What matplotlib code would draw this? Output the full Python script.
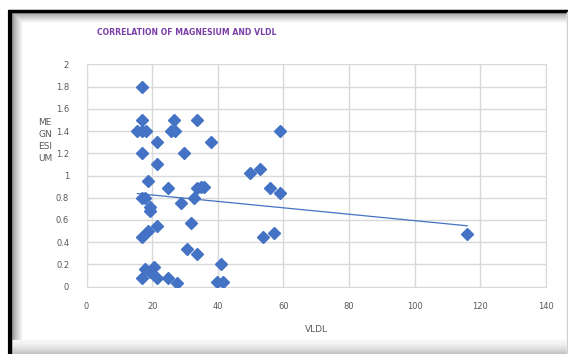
import numpy as np
import matplotlib.pyplot as plt

# VLDL vs serum magnesium for each subject
vldl = [16.8, 16.8, 15.5, 16.8, 18.2, 16.8, 21.6, 21.6, 18.7, 24.7,
        16.8, 17.9, 19.4, 19.4, 16.8, 18.7, 21.6, 17.9, 19.4, 20.7,
        16.8, 21.6, 24.7, 27.7, 26.7, 25.7, 27.0, 33.8, 29.7, 37.8,
        28.9, 32.7, 33.8, 34.8, 35.8, 31.7, 30.6, 33.7, 40.9, 39.7,
        41.7, 49.7, 52.9, 55.8, 59.0, 59.0, 53.9, 57.0, 116.0]
magnesium = [1.80, 1.50, 1.40, 1.40, 1.40, 1.20, 1.30, 1.10, 0.95, 0.89,
             0.80, 0.80, 0.72, 0.68, 0.45, 0.50, 0.55, 0.16, 0.13, 0.18,
             0.08, 0.08, 0.08, 0.03, 1.50, 1.40, 1.40, 1.50, 1.20, 1.30,
             0.75, 0.80, 0.89, 0.90, 0.90, 0.57, 0.34, 0.29, 0.20, 0.04,
             0.04, 1.02, 1.06, 0.89, 0.84, 1.40, 0.45, 0.48, 0.47]

x_ticks = [0, 20, 40, 60, 80, 100, 120, 140]
y_ticks = [0, 0.2, 0.4, 0.6, 0.8, 1, 1.2, 1.4, 1.6, 1.8, 2]
y_tick_labels = ["0", "0.2", "0.4", "0.6", "0.8", "1", "1.2", "1.4", "1.6", "1.8", "2"]

W, H = 568, 354
blue = "#4472C4"
grey_text = "#595959"

fig = plt.figure(figsize=(W / 100, H / 100), dpi=100)
fig.patch.set_facecolor("white")

# frame with soft inner shadow, drawn in pixel coordinates
bg = fig.add_axes([0, 0, 1, 1])
bg.set_xlim(0, W)
bg.set_ylim(H, 0)
bg.axis("off")
for i in range(12):
    g = 0.55 + 0.45 * (i / 11) ** 0.7
    bg.plot([12 + i, 12 + i], [12 + i, H], color=(g, g, g), lw=1, solid_capstyle="butt")
    bg.plot([12 + i, W - 2], [12 + i, 12 + i], color=(g, g, g), lw=1, solid_capstyle="butt")
for i in range(14):
    g = 0.97 - 0.2 * (i / 13) ** 1.5
    bg.plot([12, W - 2], [340 + i, 340 + i], color=(g, g, g), lw=1, solid_capstyle="butt")
bg.plot([9.5, 9.5], [10, H], color="black", lw=3, solid_capstyle="butt")
bg.plot([8, W], [10.5, 10.5], color="black", lw=2.5, solid_capstyle="butt")
bg.plot([566.5, 566.5], [12, H], color="#D0D0D0", lw=1)

ax = fig.add_axes([86.5 / W, 1 - 286.7 / H, (546 - 86.5) / W, (286.7 - 64.3) / H])
ax.set_facecolor("none")
ax.set_xlim(0, 140)
ax.set_ylim(0, 2)
ax.set_xticks(x_ticks)
ax.set_yticks(y_ticks)
ax.set_yticklabels(y_tick_labels)
ax.grid(True, color="#D9D9D9", lw=1)
ax.set_axisbelow(True)
for s in ax.spines.values():
    s.set_color("#D9D9D9")
ax.tick_params(length=0, labelsize=6, labelcolor=grey_text)
ax.tick_params(axis="y", pad=12.5)
ax.tick_params(axis="x", pad=11)

ax.plot(vldl, magnesium, linestyle="none", marker="D", markersize=5.8,
        color=blue, markeredgecolor=blue, zorder=3)

# linear trendline over the range of the data
slope, intercept = np.polyfit(vldl, magnesium, 1)
xs = np.array([min(vldl), max(vldl)])
ax.plot(xs, slope * xs + intercept, color=blue, lw=0.9, zorder=2)

ax.set_xlabel("VLDL", fontsize=6.5, color=grey_text, labelpad=10)

fig.text(45 / W, 1 - 140.5 / H, "ME\nGN\nESI\nUM", fontsize=6.5, color=grey_text,
         ha="center", va="center", linespacing=1.45)
fig.text(97 / W, 1 - 32.5 / H, "CORRELATION OF MAGNESIUM AND VLDL", fontsize=5.6,
         fontweight="bold", color="#7B3FA8", ha="left", va="center")

fig.savefig("out.png", dpi=100)
